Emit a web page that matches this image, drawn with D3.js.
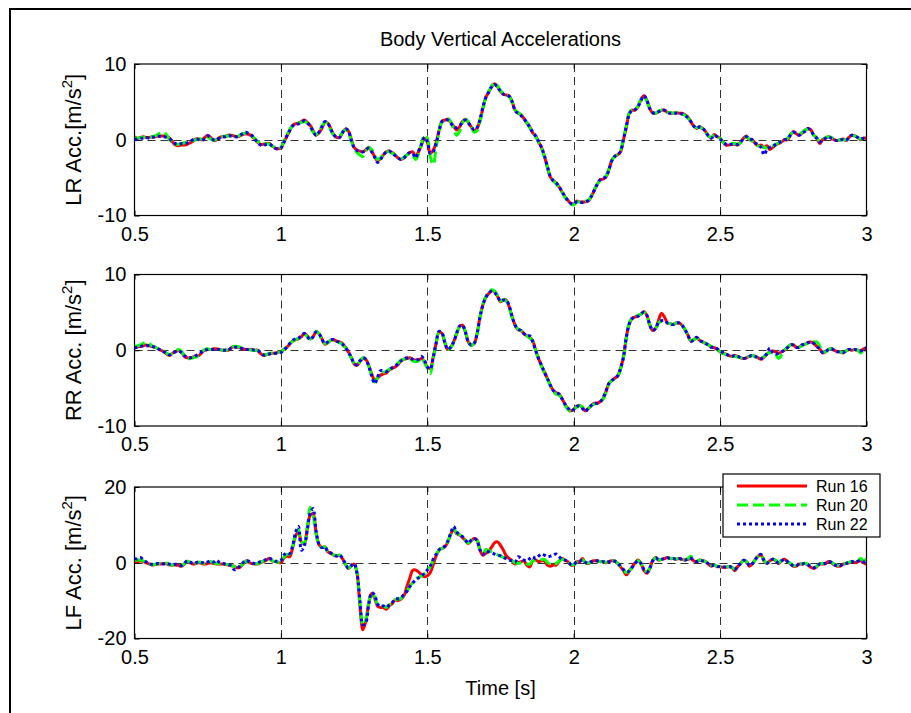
<!DOCTYPE html>
<html>
<head>
<meta charset="utf-8">
<script src="https://cdn.jsdelivr.net/npm/d3@7"></script>
<style>
  body { margin: 0; background: #fff; }
  svg { display: block; font-family: "Liberation Sans", Arial, sans-serif; }
</style>
</head>
<body>
<svg id="chart" width="911" height="713"></svg>
<script>
// samples every 0.01 s from 0.5 s to 3.0 s
const tStart = 0.5, tStep = 0.01

const runNames = ["Run 16", "Run 20", "Run 22"]
const xTicks = [0.5, 1, 1.5, 2, 2.5, 3]
const lrTicks = [-10, 0, 10]
const rrTicks = [-10, 0, 10]
const lfTicks = [-20, 0, 20]

const lrRun16 = [
  0.4, 0.2, 0.3, 0.4, 0.3, 0.3, 0.4, 0.4, 0.5, 0.5,
  0.5, 0.4, 0.2, -0.3, -0.7, -0.8, -0.7, -0.7, -0.6, -0.4,
  -0.2, 0.1, 0.1, 0.0, 0.3, 0.6, 0.3, -0.1, 0.0, 0.3,
  0.4, 0.4, 0.6, 0.6, 0.5, 0.4, 0.5, 0.7, 0.8, 0.7,
  0.5, 0.1, -0.3, -0.6, -0.6, -0.5, -0.5, -0.8, -1.1, -1.2,
  -1.1, -0.3, 0.4, 1.2, 1.9, 2.1, 2.2, 2.4, 2.6, 2.3,
  1.9, 1.2, 0.6, 0.9, 1.5, 2.3, 2.2, 1.5, 0.7, 0.3,
  0.3, 0.9, 1.4, 1.2, 0.1, -1.0, -1.4, -1.5, -1.6, -1.3,
  -1.0, -1.5, -2.2, -2.8, -2.5, -2.0, -1.6, -1.5, -1.7, -2.0,
  -2.4, -2.6, -2.4, -2.0, -1.7, -1.6, -2.2, -1.6, -0.7, 0.2,
  -0.3, -1.8, -1.4, -0.4, 1.2, 2.4, 2.6, 2.7, 2.3, 1.8,
  1.3, 1.7, 2.4, 2.7, 2.3, 1.7, 1.2, 1.5, 2.6, 4.2,
  5.6, 6.3, 7.0, 7.4, 7.0, 6.4, 6.0, 5.9, 5.8, 5.0,
  3.9, 3.5, 3.3, 2.8, 2.2, 1.7, 0.9, 0.5, -0.3, -1.0,
  -2.2, -3.6, -4.9, -5.4, -5.7, -6.2, -6.9, -7.5, -8.0, -8.4,
  -8.5, -8.1, -8.2, -8.2, -8.2, -8.1, -7.5, -6.7, -5.9, -5.3,
  -5.2, -4.9, -4.0, -2.7, -2.2, -2.0, -1.6, 0.0, 1.7, 3.5,
  3.9, 3.9, 4.4, 5.3, 5.8, 5.2, 4.1, 3.5, 3.5, 3.7,
  3.9, 3.9, 3.6, 3.5, 3.5, 3.6, 3.5, 3.5, 3.3, 3.0,
  2.4, 1.8, 1.5, 1.7, 1.5, 1.1, 0.5, 0.2, 0.7, 0.4,
  0.2, -0.3, -0.7, -0.7, -0.6, -0.6, -0.7, -0.3, 0.2, 0.5,
  0.0, 0.0, -0.5, -0.8, -0.7, -1.0, -0.8, -1.3, -1.0, -0.7,
  -0.5, -0.3, 0.0, 0.0, 0.6, 1.1, 0.8, 0.6, 0.9, 1.2,
  1.5, 1.3, 0.6, 0.2, -0.5, 0.0, 0.2, 0.4, 0.2, 0.0,
  -0.1, 0.0, 0.1, -0.1, 0.3, 0.6, 0.5, 0.3, 0.0, 0.2,
  0.2
]
const lrRun20 = [
  0.2, 0.2, 0.3, 0.3, 0.4, 0.3, 0.4, 0.5, 0.7, 0.9,
  1.0, 0.6, 0.0, -0.4, -0.6, -0.6, -0.5, -0.4, -0.3, -0.2,
  -0.1, 0.0, 0.1, 0.1, 0.2, 0.3, 0.1, -0.1, 0.1, 0.3,
  0.4, 0.5, 0.5, 0.5, 0.4, 0.4, 0.6, 0.8, 0.9, 0.8,
  0.6, 0.2, -0.2, -0.5, -0.6, -0.5, -0.6, -0.8, -1.0, -1.1,
  -1.0, -0.2, 0.6, 1.3, 1.9, 2.1, 2.2, 2.3, 2.4, 2.2,
  1.7, 1.0, 0.7, 1.1, 1.8, 2.3, 2.1, 1.3, 0.6, 0.3,
  0.4, 1.0, 1.3, 1.1, -0.1, -1.2, -1.7, -2.0, -2.2, -1.5,
  -1.0, -1.3, -2.0, -2.6, -2.4, -1.9, -1.6, -1.6, -1.8, -2.0,
  -2.3, -2.5, -2.3, -2.0, -1.8, -2.0, -2.6, -1.9, -0.6, 0.6,
  0.2, -2.2, -3.3, -1.2, 1.0, 2.3, 2.5, 2.8, 2.4, 1.4,
  0.6, 1.1, 2.2, 2.7, 2.4, 1.8, 1.0, 1.2, 2.4, 4.0,
  5.6, 6.4, 7.1, 7.6, 7.1, 6.5, 6.1, 5.9, 5.7, 4.9,
  3.9, 3.6, 3.3, 2.8, 2.3, 1.6, 0.9, 0.4, -0.3, -1.1,
  -2.3, -3.6, -4.8, -5.4, -5.8, -6.3, -6.9, -7.6, -8.1, -8.5,
  -8.6, -8.2, -8.2, -8.1, -8.1, -8.0, -7.4, -6.6, -5.9, -5.4,
  -5.2, -4.8, -3.9, -2.8, -2.2, -1.9, -1.4, 0.2, 1.9, 3.6,
  4.0, 4.0, 4.5, 5.4, 5.7, 5.1, 4.1, 3.6, 3.5, 3.8,
  3.9, 3.8, 3.6, 3.6, 3.5, 3.6, 3.6, 3.4, 3.2, 2.9,
  2.3, 1.8, 1.6, 1.7, 1.4, 1.0, 0.5, 0.3, 0.6, 0.4,
  0.2, -0.3, -0.6, -0.7, -0.5, -0.5, -0.6, -0.4, 0.1, 0.4,
  0.1, -0.2, -0.6, -0.8, -0.9, -1.0, -1.1, -1.0, -0.8, -0.6,
  -0.4, -0.2, 0.0, 0.2, 0.7, 1.0, 0.8, 0.7, 1.0, 1.3,
  1.4, 1.2, 0.6, 0.3, -0.2, 0.0, 0.3, 0.4, 0.3, 0.1,
  -0.1, 0.0, 0.0, 0.0, 0.3, 0.5, 0.5, 0.3, 0.1, 0.1,
  0.3
]
const lrRun22 = [
  0.0, 0.1, 0.2, 0.2, 0.3, 0.2, 0.3, 0.4, 0.5, 0.4,
  0.4, 0.3, 0.1, -0.2, -0.5, -0.6, -0.5, -0.5, -0.4, -0.2,
  0.0, 0.1, 0.0, -0.1, 0.2, 0.5, 0.3, 0.0, 0.0, 0.2,
  0.4, 0.4, 0.5, 0.5, 0.4, 0.4, 0.6, 0.8, 1.0, 0.8,
  0.6, 0.1, -0.3, -0.7, -0.8, -0.6, -0.6, -0.8, -1.1, -1.2,
  -1.1, -0.4, 0.5, 1.2, 1.8, 2.0, 2.1, 2.3, 2.5, 2.2,
  1.8, 1.1, 0.6, 1.0, 1.7, 2.4, 2.2, 1.4, 0.7, 0.3,
  0.3, 0.9, 1.5, 1.2, 0.0, -1.0, -1.4, -1.5, -1.6, -1.4,
  -1.1, -1.6, -2.3, -3.0, -2.6, -2.0, -1.6, -1.5, -1.8, -2.1,
  -2.4, -2.6, -2.4, -2.0, -1.7, -1.8, -2.4, -1.5, -0.6, 0.3,
  -0.2, -1.8, -1.6, -0.5, 1.1, 2.4, 2.6, 2.6, 2.2, 1.7,
  1.6, 1.8, 2.3, 2.6, 2.2, 1.7, 1.3, 1.6, 2.7, 4.3,
  5.6, 6.3, 7.0, 7.3, 6.9, 6.4, 6.0, 5.9, 5.7, 5.0,
  3.8, 3.5, 3.2, 2.8, 2.2, 1.7, 1.0, 0.5, -0.2, -1.0,
  -2.1, -3.5, -4.8, -5.4, -5.7, -6.2, -6.8, -7.5, -8.0, -8.4,
  -8.5, -8.2, -8.2, -8.3, -8.2, -8.0, -7.5, -6.7, -5.9, -5.3,
  -5.1, -4.9, -4.0, -2.8, -2.2, -2.0, -1.5, 0.1, 1.8, 3.4,
  3.9, 4.0, 4.4, 5.2, 5.8, 5.2, 4.1, 3.6, 3.5, 3.7,
  3.9, 3.9, 3.6, 3.5, 3.5, 3.5, 3.5, 3.4, 3.2, 2.9,
  2.4, 1.8, 1.5, 1.7, 1.5, 1.1, 0.5, 0.2, 0.6, 0.4,
  0.1, -0.3, -0.6, -0.7, -0.6, -0.6, -0.6, -0.3, 0.1, 0.4,
  0.1, 0.0, -0.4, -0.7, -1.0, -2.0, -1.3, -1.0, -0.9, -0.6,
  -0.4, -0.2, 0.0, 0.1, 0.6, 1.0, 0.8, 0.6, 0.9, 1.1,
  1.5, 1.2, 0.6, 0.2, -0.3, 0.0, 0.2, 0.4, 0.2, 0.0,
  -0.1, 0.0, 0.0, -0.1, 0.3, 0.6, 0.5, 0.3, 0.1, 0.2,
  0.1
]

const rrRun16 = [
  0.4, 0.5, 0.5, 0.6, 0.7, 0.6, 0.5, 0.4, 0.2, 0.0,
  -0.2, -0.5, -0.7, -0.4, -0.2, 0.0, -0.2, -0.8, -1.0, -1.0,
  -0.9, -0.8, -0.7, -0.3, 0.0, 0.1, 0.1, 0.2, 0.2, 0.1,
  0.0, 0.0, 0.0, 0.3, 0.5, 0.4, 0.35, 0.2, 0.1, 0.1,
  0.1, 0.0, 0.0, -0.4, -0.7, -0.6, -0.5, -0.4, -0.4, -0.3,
  -0.2, 0.1, 0.4, 0.8, 1.2, 1.4, 1.5, 1.8, 2.2, 1.9,
  1.5, 1.8, 2.4, 2.2, 1.5, 0.8, 1.0, 1.3, 1.4, 1.2,
  1.1, 0.9, 0.4, -0.2, -0.9, -1.8, -2.0, -1.5, -1.1, -1.2,
  -2.0, -3.1, -3.9, -3.7, -3.3, -3.1, -3.0, -2.6, -2.4, -2.2,
  -1.9, -1.4, -1.2, -1.1, -1.0, -1.2, -1.3, -1.3, -1.1, -1.5,
  -2.2, -2.4, -0.9, 0.9, 2.4, 2.2, 1.0, 0.1, 0.4, 1.1,
  2.2, 3.1, 3.3, 2.4, 1.1, 0.7, 0.9, 2.2, 4.4, 6.0,
  7.0, 7.5, 7.9, 7.7, 7.1, 6.4, 6.7, 6.6, 5.7, 4.4,
  3.3, 2.7, 2.6, 2.2, 1.9, 1.7, 1.3, 0.0, -1.1, -2.0,
  -2.9, -3.7, -4.6, -5.3, -5.6, -5.8, -6.4, -7.1, -7.7, -8.0,
  -7.8, -7.4, -7.3, -7.6, -8.0, -7.7, -7.3, -7.0, -7.0, -6.8,
  -6.4, -5.5, -4.4, -4.0, -3.7, -3.4, -2.4, -0.9, 1.8, 3.5,
  4.2, 4.4, 4.5, 4.8, 5.1, 4.6, 3.3, 2.6, 2.9, 4.0,
  4.9, 4.4, 3.6, 3.5, 3.4, 3.6, 3.6, 3.3, 2.7, 2.0,
  1.2, 1.4, 1.7, 1.3, 1.1, 0.9, 0.7, 0.4, 0.35, 0.1,
  -0.2, -0.4, -0.5, -0.7, -0.8, -0.7, -0.8, -1.0, -1.1, -1.0,
  -0.8, -0.7, -0.8, -1.0, -1.2, -0.9, -0.5, -0.2, -0.1, -0.2,
  -0.4, -0.2, 0.0, 0.35, 0.7, 0.7, 0.4, 0.4, 0.7, 0.8,
  1.0, 1.1, 0.9, 0.5, 0.2, -0.35, -0.2, 0.1, 0.2, 0.0,
  -0.2, -0.2, -0.35, -0.1, 0.1, 0.0, 0.1, 0.0, -0.1, 0.2,
  0.3
]
const rrRun20 = [
  0.5, 0.6, 0.7, 0.9, 1.1, 0.9, 0.6, 0.4, 0.2, 0.0,
  -0.1, -0.4, -0.6, -0.4, -0.1, 0.1, -0.1, -0.7, -1.1, -1.1,
  -1.0, -0.9, -0.6, -0.2, 0.1, 0.2, 0.1, 0.1, 0.1, 0.1,
  0.0, 0.0, 0.1, 0.3, 0.5, 0.5, 0.4, 0.2, 0.1, 0.1,
  0.0, 0.0, -0.1, -0.4, -0.6, -0.6, -0.4, -0.4, -0.3, -0.3,
  -0.2, 0.1, 0.5, 0.9, 1.2, 1.4, 1.6, 1.9, 2.1, 1.8,
  1.5, 1.9, 2.5, 2.2, 1.4, 0.9, 1.0, 1.3, 1.3, 1.2,
  1.0, 0.8, 0.3, -0.3, -1.0, -1.7, -1.9, -1.4, -1.0, -1.2,
  -2.1, -3.3, -4.2, -3.6, -3.1, -2.9, -2.8, -2.5, -2.3, -2.0,
  -1.7, -1.3, -1.2, -1.0, -1.1, -1.4, -1.5, -1.4, -1.0, -1.6,
  -2.4, -3.1, -1.2, 0.8, 2.4, 2.3, 1.1, 0.1, 0.3, 1.1,
  2.2, 3.1, 3.3, 2.5, 1.2, 0.6, 0.9, 2.1, 4.3, 6.1,
  7.1, 7.6, 8.0, 7.8, 7.2, 6.5, 6.7, 6.5, 5.6, 4.3,
  3.3, 2.8, 2.6, 2.2, 1.9, 1.6, 1.2, 0.0, -1.1, -2.1,
  -3.0, -3.8, -4.7, -5.4, -5.8, -5.9, -6.4, -7.2, -7.8, -8.1,
  -7.9, -7.5, -7.3, -7.5, -7.9, -7.7, -7.3, -7.1, -7.0, -6.9,
  -6.5, -5.6, -4.5, -4.0, -3.8, -3.5, -2.5, -1.0, 1.7, 3.6,
  4.3, 4.5, 4.6, 4.8, 5.0, 4.5, 3.4, 2.7, 2.9, 3.6,
  3.9, 3.9, 3.6, 3.5, 3.4, 3.6, 3.6, 3.3, 2.8, 2.0,
  1.3, 1.4, 1.6, 1.3, 1.1, 0.9, 0.7, 0.5, 0.3, 0.1,
  -0.2, -0.4, -0.6, -0.7, -0.8, -0.8, -0.9, -1.0, -1.0, -0.9,
  -0.8, -0.7, -0.9, -1.0, -1.1, -0.8, -0.5, -0.3, -0.2, -0.5,
  -1.1, -0.6, 0.0, 0.4, 0.7, 0.7, 0.5, 0.4, 0.6, 0.8,
  0.9, 1.0, 1.1, 1.1, 0.6, -0.2, -0.2, 0.1, 0.2, 0.0,
  -0.1, -0.2, -0.3, -0.1, 0.0, 0.0, 0.1, 0.0, -0.35, 0.0,
  0.2
]
const rrRun22 = [
  0.3, 0.4, 0.5, 0.6, 0.6, 0.6, 0.5, 0.4, 0.2, 0.0,
  -0.2, -0.4, -0.6, -0.4, -0.2, -0.1, -0.3, -0.7, -0.9, -1.0,
  -0.9, -0.7, -0.5, -0.2, 0.0, 0.1, 0.1, 0.1, 0.1, 0.1,
  0.0, 0.0, 0.0, 0.3, 0.4, 0.4, 0.3, 0.2, 0.1, 0.1,
  0.1, 0.0, 0.0, -0.3, -0.6, -0.6, -0.5, -0.4, -0.4, -0.4,
  -0.3, 0.0, 0.4, 0.9, 1.3, 1.5, 1.6, 1.9, 2.2, 1.8,
  1.4, 1.8, 2.4, 2.2, 1.5, 0.9, 1.1, 1.4, 1.4, 1.2,
  1.0, 0.8, 0.4, -0.2, -0.9, -1.7, -1.9, -1.4, -1.0, -1.2,
  -2.1, -3.4, -4.4, -3.6, -2.7, -2.7, -2.8, -2.6, -2.3, -2.1,
  -1.8, -1.4, -1.2, -1.0, -1.0, -1.2, -1.3, -1.2, -0.8, -1.3,
  -2.2, -2.5, -1.0, 0.9, 2.5, 2.3, 1.0, 0.1, 0.4, 1.1,
  2.2, 3.2, 3.3, 2.4, 1.1, 0.7, 0.9, 2.2, 4.4, 6.0,
  7.0, 7.5, 7.8, 7.6, 7.1, 6.5, 6.6, 6.6, 5.8, 4.4,
  3.3, 2.8, 2.6, 2.2, 1.9, 1.9, 1.1, 0.0, -1.1, -2.0,
  -2.9, -3.7, -4.6, -5.3, -5.6, -5.8, -6.4, -7.1, -7.6, -8.0,
  -7.8, -7.4, -7.4, -7.7, -8.1, -7.6, -7.3, -7.0, -7.0, -6.8,
  -6.3, -5.4, -4.4, -4.0, -3.7, -3.4, -2.4, -0.9, 1.8, 3.5,
  4.2, 4.4, 4.5, 4.8, 5.0, 4.6, 3.3, 2.6, 2.9, 3.7,
  3.9, 3.9, 3.6, 3.5, 3.4, 3.6, 3.6, 3.3, 2.7, 2.0,
  1.2, 1.4, 1.7, 1.3, 1.1, 0.9, 0.7, 0.4, 0.4, 0.2,
  -0.1, -0.3, -0.5, -0.7, -0.8, -0.7, -0.8, -1.0, -1.1, -1.0,
  -0.8, -0.7, -0.8, -1.0, -1.1, -0.9, -0.4, 0.3, -0.3, -0.5,
  -0.4, -0.2, 0.0, 0.35, 0.7, 0.7, 0.4, 0.4, 0.7, 0.8,
  1.0, 1.1, 0.9, 0.5, 0.2, -0.3, -0.2, 0.1, 0.2, 0.0,
  -0.2, -0.2, -0.3, -0.1, 0.1, 0.1, 0.1, 0.0, -0.1, 0.2,
  0.3
]

const lfRun16 = [
  0.3, 0.3, 0.5, 0.3, 0.0, -0.3, -0.6, -0.5, -0.35, -0.3,
  -0.2, -0.3, -0.6, -0.6, -0.6, -0.7, -0.9, -0.4, 0.3, 0.0,
  -0.35, -0.2, 0.0, -0.2, -0.35, -0.2, 0.0, -0.2, -0.35, -0.35,
  -0.35, -0.5, -0.6, -0.8, -0.9, -1.3, -1.2, -0.4, 0.5, 0.1,
  -0.2, -0.3, -0.35, 0.0, 0.3, 0.7, 1.1, 0.5, 0.3, 0.1,
  0.0, 1.2, 1.8, 1.6, 4.0, 7.0, 8.3, 5.5, 5.0, 9.0,
  12.5, 13.0, 8.0, 4.8, 4.0, 4.2, 2.9, 2.5, 2.0, 1.8,
  2.0, 1.1, -0.35, -1.5, -0.9, -0.35, -2.8, -11.5, -17.7, -15.5,
  -10.7, -8.1, -9.3, -11.5, -11.8, -11.8, -12.3, -11.4, -10.8, -9.8,
  -10.0, -9.6, -8.8, -6.3, -4.1, -2.0, -1.9, -2.4, -3.2, -3.7,
  -3.4, -2.6, -0.6, 1.8, 3.3, 3.8, 4.2, 5.5, 7.5, 8.8,
  7.7, 7.3, 6.7, 5.8, 5.1, 5.8, 6.4, 6.0, 3.3, 2.0,
  2.5, 3.0, 4.2, 5.3, 5.5, 4.6, 3.3, 1.8, 1.1, 0.5,
  -0.35, 0.0, 0.3, 0.5, -0.6, -1.1, 0.5, 0.7, 0.3, 0.5,
  0.5, -0.6, -0.9, -0.6, -0.6, 0.3, 1.1, 0.7, 0.3, -0.6,
  -0.6, 0.3, 0.3, 1.1, 0.0, -0.2, 0.3, 0.5, 0.5, 0.3,
  0.3, 0.0, 0.3, 0.5, 0.5, -0.2, -1.1, -2.1, -3.2, -2.1,
  -1.05, 0.0, 0.7, -0.2, -2.1, -2.8, -1.5, 0.7, 1.4, 0.7,
  0.9, 1.1, 1.4, 1.1, 1.1, 0.9, 1.1, 0.9, 0.7, 0.9,
  1.1, 0.5, 0.3, 0.7, 0.5, 0.3, -0.35, -0.9, -0.6, -1.05,
  -1.05, -1.2, -1.2, -1.05, -1.2, -2.1, -1.05, -0.2, 0.7, 0.3,
  -0.9, -0.35, 0.9, 1.8, 2.0, 0.5, -0.2, 0.5, 0.9, 0.5,
  -0.2, 0.5, 0.9, 0.3, -0.35, -0.9, -0.9, -0.35, -0.35, -0.2,
  -0.6, -1.2, -1.5, -1.05, -0.35, -0.35, -0.2, 0.3, 0.0, -0.6,
  -0.9, -0.9, -0.35, -0.2, 0.0, 0.3, 0.0, 0.3, 0.5, 0.0,
  -0.35
]
const lfRun20 = [
  0.6, 0.7, 0.8, 0.5, 0.1, -0.3, -0.5, -0.4, -0.3, -0.2,
  -0.2, -0.1, -0.5, -0.6, -0.5, -0.6, -0.8, -0.3, 0.4, 0.1,
  -0.3, -0.1, 0.2, 0.0, -0.2, 0.1, 0.3, 0.0, -0.2, -0.3,
  -0.2, -0.4, -0.5, -0.7, -1.0, -1.2, -1.0, -0.3, 0.4, 0.2,
  -0.1, -0.3, -0.2, 0.1, 0.4, 0.8, 1.0, 0.6, 0.3, 0.2,
  0.1, 1.4, 2.2, 2.3, 4.2, 7.3, 8.8, 5.5, 5.3, 9.5,
  14.6, 12.5, 7.7, 4.6, 4.0, 4.2, 3.0, 2.6, 2.1, 1.9,
  2.0, 1.2, -0.3, -1.4, -0.9, -0.3, -2.6, -10.7, -16.4, -15.1,
  -10.5, -8.1, -8.9, -11.1, -11.6, -11.4, -11.8, -11.1, -10.7, -9.8,
  -9.6, -9.4, -8.5, -7.6, -6.3, -5.2, -4.2, -3.9, -3.5, -3.0,
  -2.0, -1.1, 0.7, 2.0, 3.3, 3.8, 4.2, 5.5, 7.7, 9.0,
  7.9, 7.4, 6.8, 5.9, 5.2, 5.8, 6.3, 6.0, 3.5, 2.4,
  3.5, 3.2, 2.8, 2.4, 2.1, 1.8, 1.4, 1.1, 0.7, 0.5,
  0.0, -0.2, 0.0, 0.0, -0.3, -0.4, 0.5, 0.6, 0.7, 0.8,
  0.9, 0.1, -0.4, -0.3, -0.2, 0.4, 0.9, 0.7, 0.3, -0.4,
  -0.5, 0.2, 0.4, 0.8, 0.1, -0.1, 0.3, 0.5, 0.5, 0.3,
  0.3, 0.1, 0.3, 0.5, 0.5, -0.1, -1.0, -1.9, -2.6, -2.2,
  -1.2, -0.1, 0.5, -0.3, -1.8, -2.4, -1.4, 0.5, 1.3, 0.8,
  0.9, 1.2, 1.4, 1.2, 1.1, 1.0, 1.2, 1.0, 0.8, 1.1,
  1.7, 0.8, 0.4, 0.7, 0.5, 0.3, -0.2, -0.7, -0.6, -0.9,
  -1.0, -1.1, -1.1, -1.0, -1.2, -1.6, -1.1, -0.3, 0.6, 0.4,
  -0.7, -0.3, 0.8, 1.7, 2.1, 0.7, -0.1, 0.6, 1.0, 0.7,
  0.0, 0.6, 1.0, 0.4, -0.2, -0.7, -0.8, -0.3, -0.3, -0.1,
  -0.4, -1.0, -1.3, -0.9, -0.3, -0.2, -0.1, 0.4, 0.2, -0.4,
  -0.7, -0.7, -0.3, -0.1, 0.1, 0.4, 0.2, 0.5, 1.1, 0.6,
  0.9
]
const lfRun22 = [
  1.1, 1.0, 1.4, 0.8, 0.2, -0.3, -0.4, -0.3, -0.2, -0.3,
  -0.3, -0.2, -0.4, -0.5, -0.4, -0.5, -0.7, -0.2, 0.5, 0.2,
  -0.2, 0.0, 0.3, 0.1, -0.1, 0.2, 0.5, 0.2, 0.7, 0.1,
  -0.1, -0.3, -0.4, -0.8, -1.8, -1.6, -0.8, 0.0, 0.6, 0.4,
  0.0, -0.2, -0.1, 0.3, 0.5, 0.9, 1.2, 0.8, 0.4, 0.4,
  0.6, 2.0, 2.6, 2.4, 4.5, 8.0, 9.6, 3.3, 4.5, 8.5,
  13.0, 14.3, 8.5, 4.9, 4.0, 4.2, 3.0, 2.6, 2.2, 1.8,
  2.1, 1.2, -0.2, -1.4, -0.8, -0.2, -2.8, -10.0, -16.4, -15.8,
  -11.0, -7.9, -8.5, -10.9, -11.5, -11.4, -11.8, -11.1, -10.5, -9.6,
  -9.5, -9.2, -8.4, -7.6, -6.3, -5.4, -4.5, -4.0, -3.5, -2.8,
  -1.9, -0.9, 0.9, 2.2, 3.4, 4.0, 4.4, 5.7, 7.8, 9.6,
  8.1, 7.5, 6.9, 6.0, 5.2, 6.0, 6.4, 5.8, 3.4, 2.2,
  3.0, 2.9, 2.6, 2.3, 2.0, 1.8, 1.4, 1.1, 0.7, 0.5,
  0.2, 1.6, 1.1, 0.7, 0.5, 1.1, 1.6, 1.1, 1.75, 2.3,
  2.0, 1.6, 1.75, 2.0, 2.3, 1.6, 0.9, 0.7, 0.3, -0.4,
  -0.5, 0.2, 0.3, 0.7, 0.1, -0.1, 0.3, 0.5, 0.5, 0.3,
  0.3, 0.1, 0.3, 0.5, 0.4, -0.1, -0.9, -1.8, -2.4, -2.2,
  -1.2, -0.1, 0.5, -0.2, -1.8, -2.5, -1.4, 0.5, 1.3, 0.8,
  0.9, 1.1, 1.3, 1.1, 1.1, 0.9, 1.1, 0.9, 0.7, 1.0,
  1.2, 0.6, 0.3, 0.6, 0.5, 0.3, -0.3, -0.8, -0.6, -1.0,
  -1.0, -1.1, -1.1, -1.0, -1.2, -1.7, -1.0, -0.2, 0.6, 0.3,
  -0.8, -0.3, 0.8, 1.8, 2.2, 0.6, -0.1, 0.5, 0.9, 0.6,
  -0.1, 0.5, 0.9, 0.3, -0.3, -0.8, -0.8, -0.3, -0.3, -0.2,
  -0.5, -1.1, -1.3, -1.0, -0.3, -0.3, -0.1, 0.3, 0.1, -0.5,
  -0.8, -0.8, -0.3, -0.2, 0.1, 0.3, 0.1, 0.4, 0.6, 0.2,
  0.1
]

const runStyles = [
  {color: "#ff0000", dash: null},
  {color: "#00ff00", dash: "11,5"},
  {color: "#0000ff", dash: "3,3"}
]

const panels = [
  {label: ["LR Acc.[m/s", "2", "]"], ticks: lrTicks, series: [lrRun16, lrRun20, lrRun22], top: 64},
  {label: ["RR Acc. [m/s", "2", "]"], ticks: rrTicks, series: [rrRun16, rrRun20, rrRun22], top: 274.5},
  {label: ["LF Acc. [m/s", "2", "]"], ticks: lfTicks, series: [lfRun16, lfRun20, lfRun22], top: 487}
]

const left = 134.5, right = 866.5, panelHeight = 151.5

const svg = d3.select("#chart")

// outer figure frame (runs off the right and bottom edges)
svg.append("rect")
  .attr("x", 10).attr("y", 9)
  .attr("width", 1000).attr("height", 1000)
  .attr("fill", "none").attr("stroke", "#000").attr("stroke-width", 2)

const x = d3.scaleLinear().domain([0.5, 3]).range([left, right])

svg.append("text")
  .attr("x", (left + right) / 2).attr("y", 46)
  .attr("text-anchor", "middle")
  .style("font-size", "20px")
  .text("Body Vertical Accelerations")

panels.forEach((p, k) => {
  const y = d3.scaleLinear()
    .domain(d3.extent(p.ticks))
    .range([p.top + panelHeight, p.top])

  const g = svg.append("g")

  // grid
  g.append("g")
    .selectAll("line")
    .data(xTicks.slice(1, -1))
    .join("line")
    .attr("x1", d => Math.round(x(d)) + 0.5).attr("x2", d => Math.round(x(d)) + 0.5)
    .attr("y1", p.top).attr("y2", p.top + panelHeight)
    .attr("stroke", "#333").attr("stroke-dasharray", "8,5")

  g.append("g")
    .selectAll("line")
    .data(p.ticks.slice(1, -1))
    .join("line")
    .attr("x1", left).attr("x2", right)
    .attr("y1", d => Math.round(y(d)) + 0.5).attr("y2", d => Math.round(y(d)) + 0.5)
    .attr("stroke", "#333").attr("stroke-dasharray", "8,5")

  // axes
  g.append("g")
    .attr("transform", `translate(0, ${p.top + panelHeight})`)
    .call(d3.axisBottom(x).tickValues(xTicks).tickFormat(d => String(d))
      .tickSize(-5).tickSizeOuter(0).tickPadding(11))
  g.append("g")
    .attr("transform", `translate(${left}, 0)`)
    .call(d3.axisLeft(y).tickValues(p.ticks).tickFormat(d => String(d))
      .tickSize(-5).tickSizeOuter(0).tickPadding(8))
  g.append("g")
    .attr("transform", `translate(0, ${p.top})`)
    .call(d3.axisTop(x).tickValues(xTicks).tickSize(-5).tickSizeOuter(0).tickFormat(""))
  g.append("g")
    .attr("transform", `translate(${right}, 0)`)
    .call(d3.axisRight(y).tickValues(p.ticks).tickSize(-5).tickSizeOuter(0).tickFormat(""))

  g.selectAll(".domain").remove()
  g.selectAll(".tick line").attr("stroke", "#000")
  g.selectAll(".tick text")
    .attr("fill", "#000")
    .style("font-size", "20px")
    .style("font-family", "Liberation Sans, Arial, sans-serif")

  // data lines
  const line = d3.line()
    .x((d, i) => x(tStart + i * tStep))
    .y(d => y(d))
    .curve(d3.curveCatmullRom.alpha(0.5))

  p.series.forEach((s, j) => {
    g.append("path")
      .datum(s)
      .attr("d", line)
      .attr("fill", "none")
      .attr("stroke", runStyles[j].color)
      .attr("stroke-width", 3)
      .attr("stroke-dasharray", runStyles[j].dash)
      .attr("stroke-linejoin", "round")
  })

  // axes box
  g.append("rect")
    .attr("x", left).attr("y", p.top)
    .attr("width", right - left).attr("height", panelHeight)
    .attr("fill", "none").attr("stroke", "#000").attr("stroke-width", 1.2)

  // y label
  const cy = p.top + panelHeight / 2
  const lab = svg.append("text")
    .attr("transform", `translate(81, ${cy}) rotate(-90)`)
    .attr("text-anchor", "middle")
    .style("font-size", "22px")
  lab.append("tspan").text(p.label[0])
  lab.append("tspan").attr("dy", -9).style("font-size", "15px").text(p.label[1])
  lab.append("tspan").attr("dy", 9).text(p.label[2])
})

svg.append("text")
  .attr("x", (left + right) / 2).attr("y", 695)
  .attr("text-anchor", "middle")
  .style("font-size", "20px")
  .text("Time [s]")

// legend
const legend = svg.append("g")
legend.append("rect")
  .attr("x", 723).attr("y", 474)
  .attr("width", 157).attr("height", 63)
  .attr("fill", "#fff").attr("stroke", "#000").attr("stroke-width", 1.2)

runNames.forEach((name, j) => {
  const ly = 486 + j * 19
  legend.append("line")
    .attr("x1", 737).attr("x2", 807)
    .attr("y1", ly).attr("y2", ly)
    .attr("stroke", runStyles[j].color)
    .attr("stroke-width", 3)
    .attr("stroke-dasharray", runStyles[j].dash)
  legend.append("text")
    .attr("x", 816).attr("y", ly + 6)
    .style("font-size", "16px")
    .text(name)
})
</script>
</body>
</html>
